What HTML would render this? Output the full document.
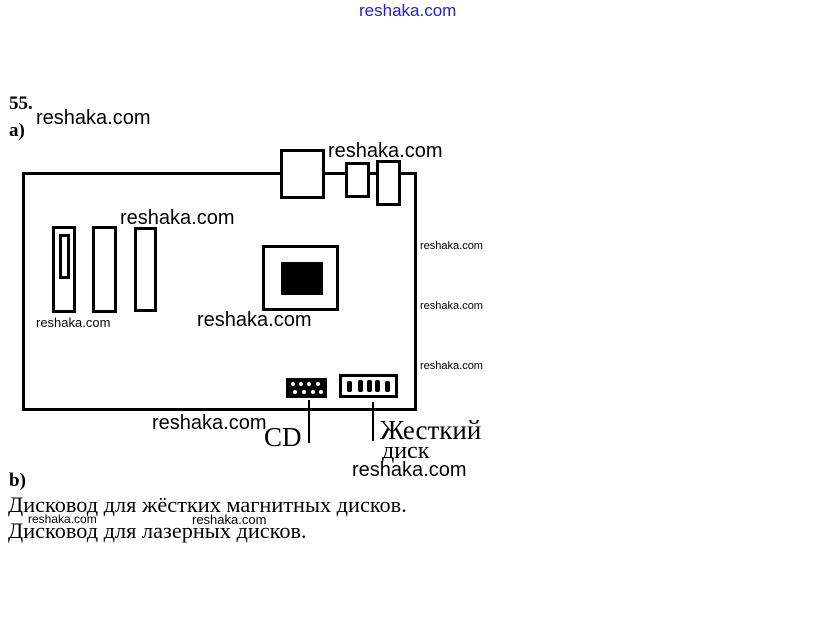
<!DOCTYPE html>
<html><head><meta charset="utf-8"><style>
body{margin:0;width:815px;height:642px;background:#fff;position:relative;overflow:hidden}
.a{position:absolute;white-space:nowrap;line-height:1}
.w{font-family:"Liberation Sans",sans-serif;color:#000}
.s{font-family:"Liberation Serif","DejaVu Serif",serif;color:#000}
.b{position:absolute;border:3px solid #000;box-sizing:border-box;background:#fff}
</style></head><body>
<div class="a w" style="left:359px;top:2px;font-size:17px;color:#22c">reshaka.com</div>
<div class="a s" style="left:9px;top:94px;font-size:19px;font-weight:bold">55.</div>
<div class="a s" style="left:9px;top:121px;font-size:19px;font-weight:bold">a)</div>
<div class="a w" style="left:36px;top:108px;font-size:20px">reshaka.com</div>

<div class="b" style="left:22px;top:172px;width:395px;height:239px;background:transparent"></div>
<div class="b" style="left:280px;top:149px;width:45px;height:50px"></div>
<div class="b" style="left:345px;top:162px;width:25px;height:36px"></div>
<div class="b" style="left:376px;top:160px;width:25px;height:46px"></div>
<div class="a w" style="left:328px;top:141px;font-size:20px">reshaka.com</div>

<div class="b" style="left:52px;top:226px;width:24px;height:87px"></div>
<div class="b" style="left:59px;top:234px;width:11px;height:45px"></div>
<div class="b" style="left:92px;top:226px;width:25px;height:87px"></div>
<div class="b" style="left:134px;top:227px;width:23px;height:85px"></div>
<div class="a w" style="left:120px;top:208px;font-size:20px">reshaka.com</div>

<div class="b" style="left:262px;top:245px;width:77px;height:66px"></div>
<div style="position:absolute;left:281px;top:262px;width:42px;height:33px;background:#000"></div>
<div class="a w" style="left:197px;top:310px;font-size:20px">reshaka.com</div>
<div class="a w" style="left:36px;top:316px;font-size:13px">reshaka.com</div>

<div class="a w" style="left:420px;top:241px;font-size:11px">reshaka.com</div>
<div class="a w" style="left:420px;top:301px;font-size:11px">reshaka.com</div>
<div class="a w" style="left:420px;top:361px;font-size:11px">reshaka.com</div>

<div style="position:absolute;left:286px;top:378px;width:41px;height:20px;background:#000"></div>
<svg style="position:absolute;left:286px;top:378px" width="41" height="20">
<g fill="#fff"><circle cx="7" cy="6" r="2"/><circle cx="15" cy="6" r="2"/><circle cx="23" cy="6" r="2"/><circle cx="32" cy="6" r="2"/>
<circle cx="9" cy="14" r="2"/><circle cx="18" cy="14" r="2"/><circle cx="27" cy="14" r="2"/><circle cx="35" cy="14" r="2"/></g></svg>
<div class="b" style="left:339px;top:374px;width:59px;height:24px"></div>
<svg style="position:absolute;left:339px;top:374px" width="59" height="24"><g fill="#000">
<rect x="8" y="7" width="5" height="11" rx="2"/><rect x="19" y="6" width="5" height="12" rx="2"/><rect x="28" y="6" width="5" height="12" rx="2"/><rect x="36" y="6" width="5" height="12" rx="2"/><rect x="46" y="7" width="5" height="11" rx="2"/></g></svg>
<div style="position:absolute;left:308px;top:400px;width:2px;height:43px;background:#000"></div>
<div style="position:absolute;left:372px;top:402px;width:2px;height:39px;background:#000"></div>
<div class="a w" style="left:152px;top:413px;font-size:20px">reshaka.com</div>
<div class="a s" style="left:264px;top:424px;font-size:27px">CD</div>
<div class="a s" style="left:380px;top:417px;font-size:27px">Жесткий</div>
<div class="a s" style="left:382px;top:439px;font-size:24px">диск</div>
<div class="a w" style="left:352px;top:460px;font-size:20px">reshaka.com</div>

<div class="a s" style="left:9px;top:471px;font-size:19px;font-weight:bold">b)</div>
<div class="a s" style="left:8px;top:494px;font-size:22.3px">Дисковод для жёстких магнитных дисков.</div>
<div class="a w" style="left:28px;top:513px;font-size:12px">reshaka.com</div>
<div class="a w" style="left:192px;top:513px;font-size:13px">reshaka.com</div>
<div class="a s" style="left:8px;top:520px;font-size:22.3px">Дисковод для лазерных дисков.</div>
</body></html>
